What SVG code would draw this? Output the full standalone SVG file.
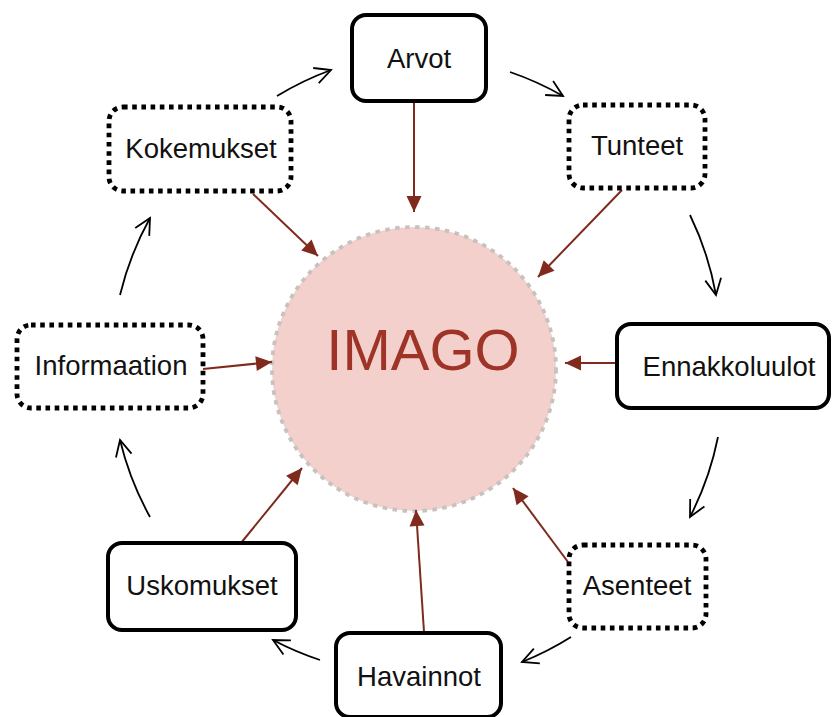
<svg xmlns="http://www.w3.org/2000/svg" width="832" height="717" viewBox="0 0 832 717">
  <style>
    .box { fill: #ffffff; stroke: #000000; stroke-width: 4; }
    .dotted { stroke-width: 4.8; stroke-dasharray: 4.6 4.6; }
    .label { font-family: "Liberation Sans", Arial, sans-serif; font-size: 27.5px; fill: #111111; text-anchor: middle; }
    .feed { stroke: #7f2a1d; stroke-width: 2; fill: none; }
    .cycle { stroke: #000000; stroke-width: 1.8; fill: none; }
  </style>
  <defs>
    <marker id="solidHead" markerUnits="userSpaceOnUse" markerWidth="20" markerHeight="20" refX="0" refY="0" orient="auto" overflow="visible">
      <path d="M0,0 L-16,-7.5 L-16,7.5 Z" fill="#7f2a1d"/>
    </marker>
    <marker id="openHead" markerUnits="userSpaceOnUse" markerWidth="20" markerHeight="20" refX="0" refY="0" orient="auto" overflow="visible">
      <path d="M-16,-8 L0,0 L-16,8" fill="none" stroke="#000000" stroke-width="1.8" stroke-linejoin="miter"/>
    </marker>
  </defs>

  <!-- central circle -->
  <g id="imago">
    <circle cx="414" cy="369" r="142" fill="#f3d0cb" stroke="#c6c2bf" stroke-width="3.8" stroke-dasharray="4.5 5.5"/>
    <text x="423" y="370" font-family="'Liberation Sans', Arial, sans-serif" font-size="58" fill="#9e3427" text-anchor="middle">IMAGO</text>
  </g>

  <!-- connectors -->
  <g id="connectors">
    <!-- inward arrows into the circle -->
    <path class="feed" d="M414,103 L414,212" marker-end="url(#solidHead)"/>
    <path class="feed" d="M622,190 L538,277" marker-end="url(#solidHead)"/>
    <path class="feed" d="M253,194 L318,256" marker-end="url(#solidHead)"/>
    <path class="feed" d="M617,363 L565,363" marker-end="url(#solidHead)"/>
    <path class="feed" d="M203,369 L272,362" marker-end="url(#solidHead)"/>
    <path class="feed" d="M241,543 L302,468" marker-end="url(#solidHead)"/>
    <path class="feed" d="M424,632 L416,510" marker-end="url(#solidHead)"/>
    <path class="feed" d="M568,562 L513,488" marker-end="url(#solidHead)"/>
    <!-- clockwise cycle arrows -->
    <path class="cycle" d="M277,96 A308,308 0 0 1 331,70" marker-end="url(#openHead)"/>
    <path class="cycle" d="M510,72 A308,308 0 0 1 563,96" marker-end="url(#openHead)"/>
    <path class="cycle" d="M690,215 A308,308 0 0 1 716,295" marker-end="url(#openHead)"/>
    <path class="cycle" d="M718,437 A308,308 0 0 1 690,517" marker-end="url(#openHead)"/>
    <path class="cycle" d="M571,637 A308,308 0 0 1 522,662" marker-end="url(#openHead)"/>
    <path class="cycle" d="M320,660 A308,308 0 0 1 273,640" marker-end="url(#openHead)"/>
    <path class="cycle" d="M150,517 A308,308 0 0 1 120,440" marker-end="url(#openHead)"/>
    <path class="cycle" d="M120,295 A308,308 0 0 1 150,218" marker-end="url(#openHead)"/>
  </g>

  <!-- nodes -->
  <g id="arvot">
    <rect class="box" x="352" y="15" width="134" height="86" rx="14"/>
    <text class="label" x="419" y="68">Arvot</text>
  </g>
  <g id="tunteet">
    <rect class="box dotted" x="569" y="105" width="136" height="83" rx="14"/>
    <text class="label" x="637" y="155">Tunteet</text>
  </g>
  <g id="ennakkoluulot">
    <rect class="box" x="617" y="324" width="212" height="84" rx="14"/>
    <text class="label" x="729" y="376">Ennakkoluulot</text>
  </g>
  <g id="asenteet">
    <rect class="box dotted" x="569" y="545" width="137" height="83" rx="14"/>
    <text class="label" x="637" y="595">Asenteet</text>
  </g>
  <g id="havainnot">
    <rect class="box" x="336" y="633" width="165" height="84" rx="14"/>
    <text class="label" x="419" y="686">Havainnot</text>
  </g>
  <g id="uskomukset">
    <rect class="box" x="108" y="543" width="188" height="87" rx="14"/>
    <text class="label" x="202" y="595">Uskomukset</text>
  </g>
  <g id="informaation">
    <rect class="box dotted" x="17" y="325" width="186" height="83" rx="14"/>
    <text class="label" x="111" y="375">Informaation</text>
  </g>
  <g id="kokemukset">
    <rect class="box dotted" x="109" y="107" width="182" height="84" rx="14"/>
    <text class="label" x="201" y="158">Kokemukset</text>
  </g>
</svg>
